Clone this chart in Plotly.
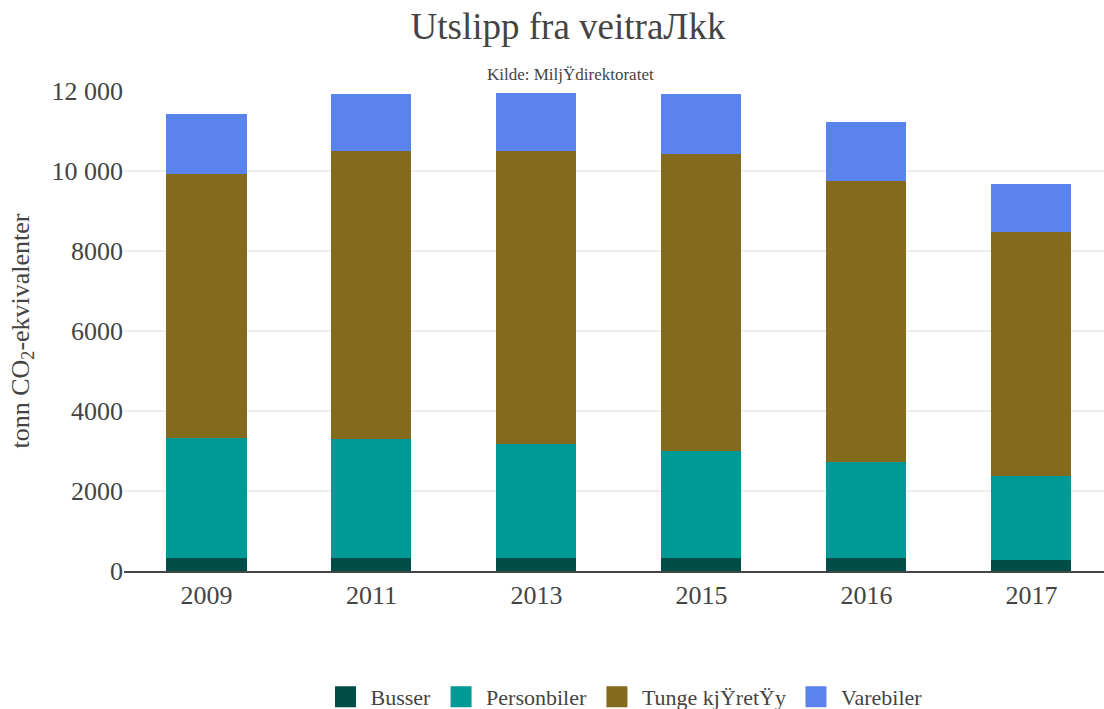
import plotly.graph_objects as go

years = ["2009", "2011", "2013", "2015", "2016", "2017"]
busser = [330, 330, 330, 330, 330, 275]
personbiler = [3000, 2970, 2850, 2670, 2400, 2110]
tunge = [6590, 7200, 7320, 7425, 7020, 6100]
varebiler = [1500, 1425, 1450, 1500, 1475, 1190]

series = [
    ("Busser", busser, "#004D48"),
    ("Personbiler", personbiler, "#009A96"),
    ("Tunge kjŸretŸy", tunge, "#846A1C"),
    ("Varebiler", varebiler, "#5A83EE"),
]

tick_vals = [0, 2000, 4000, 6000, 8000, 10000, 12000]
tick_text = ["0", "2000", "4000", "6000", "8000", "10 000", "12 000"]

fig = go.Figure()
for name, vals, color in series:
    fig.add_trace(go.Bar(x=years, y=vals, name=name, showlegend=False,
                         marker=dict(color=color, line=dict(width=0))))
# legend entries with large square swatches
for name, vals, color in series:
    fig.add_trace(go.Scatter(x=[None], y=[None], mode="markers", name=name,
                             marker=dict(symbol="square", size=22, color=color,
                                         line=dict(width=5, color=color))))

W, H = 1104, 709
ML, MR, MT, MB = 124, 0, 91, 138
font_family = "Liberation Serif, Times New Roman, serif"
fig.update_layout(
    barmode="stack",
    bargap=0.515,
    width=W,
    height=H,
    margin=dict(l=ML, r=MR, t=MT, b=MB, autoexpand=False),
    paper_bgcolor="white",
    plot_bgcolor="white",
    font=dict(family=font_family, color="#444"),
    title=dict(text="Utslipp fra veitraЛkk", x=568 / W, xref="container", y=1 - 26 / H, yref="container",
               xanchor="center", yanchor="middle", font=dict(size=37, color="#444", family=font_family)),
    annotations=[dict(text="Kilde: MiljŸdirektoratet", x=(570 - ML) / (W - ML - MR),
                      y=(H - 74 - MB) / (H - MT - MB), xref="paper", yref="paper",
                      xanchor="center", yanchor="middle",
                      showarrow=False, font=dict(size=17, color="#444"))],
    xaxis=dict(type="category", range=[-0.5, 5.44], tickfont=dict(size=26), showgrid=False,
               showline=True, linecolor="#444", linewidth=1.5, ticks=""),
    yaxis=dict(range=[0, 12000], tickvals=tick_vals, ticktext=tick_text, tickfont=dict(size=26),
               gridcolor="#eeeeee", gridwidth=1.5, zeroline=False, ticks="",
               title=dict(text="tonn CO<sub>2</sub>-ekvivalenter", font=dict(size=26), standoff=14)),
    legend=dict(orientation="h", x=(624 - ML) / (W - ML - MR), xanchor="center",
                y=-(697 - (H - MB)) / (H - MT - MB), yanchor="middle",
                font=dict(size=22), itemwidth=40, traceorder="normal"),
    showlegend=True,
)
fig.write_html("out.html")
